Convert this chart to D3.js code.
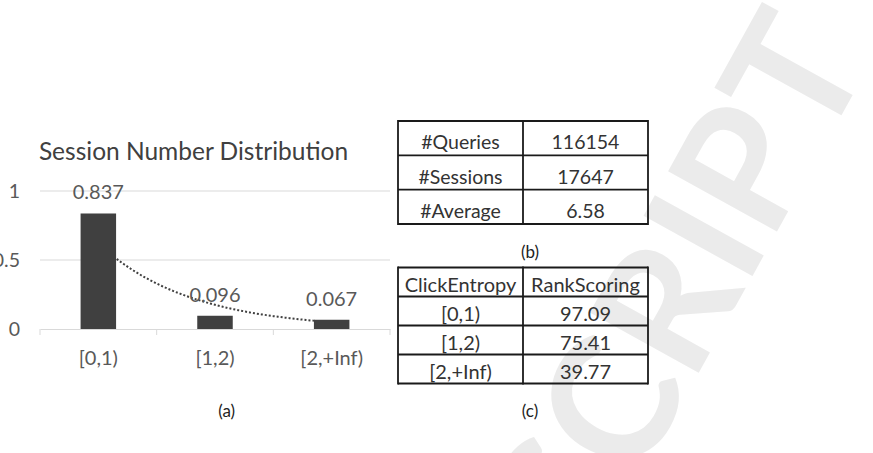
<!DOCTYPE html>
<html>
<head>
<meta charset="utf-8">
<script src="https://cdn.jsdelivr.net/npm/d3@7"></script>
<style>
  html, body { margin: 0; padding: 0; background: #fff; }
  svg { display: block; font-family: Lato, "Open Sans", sans-serif; }
</style>
</head>
<body>
<svg id="chart" width="873" height="453"></svg>
<script>
// ---- Data ----
const categories = ["[0,1)", "[1,2)", "[2,+Inf)"];
const sessionShare = [0.837, 0.096, 0.067];
const valueLabels = ["0.837", "0.096", "0.067"];
const yTicks = [0, 0.5, 1];
const yTickLabels = ["0", "0.5", "1"];
const chartTitle = "Session Number Distribution";

const statLabels = ["#Queries", "#Sessions", "#Average"];
const statValues = ["116154", "17647", "6.58"];

const entropyHeader = ["ClickEntropy", "RankScoring"];
const entropyRanges = ["[0,1)", "[1,2)", "[2,+Inf)"];
const rankScores = ["97.09", "75.41", "39.77"];

const captions = ["(a)", "(b)", "(c)"];
const watermark = "ACCEPTED MANUSCRIPT";

const svg = d3.select("#chart");

// ---- Watermark ----
svg.append("text")
  .attr("transform", "translate(872,60) rotate(-61)")
  .attr("text-anchor", "end")
  .attr("font-size", 172)
  .attr("font-weight", 700)
  .attr("fill", "#ebebeb")
  .text(watermark);

// ---- Chart (a) ----
const xb = d3.scaleBand().domain(categories).range([40, 390]);
const y = d3.scaleLinear().domain([0, 1]).range([329, 191]);

const g = svg.append("g");

// gridlines
g.selectAll("line.grid").data(yTicks.filter(d => d > 0)).join("line")
  .attr("class", "grid")
  .attr("x1", 40).attr("x2", 390)
  .attr("y1", d => y(d)).attr("y2", d => y(d))
  .attr("stroke", "#d9d9d9").attr("stroke-width", 1);

// x axis
const xAxis = g.append("g").attr("transform", `translate(0,${y(0)})`)
  .call(d3.axisBottom(xb).tickSize(0).tickFormat(""));
xAxis.select(".domain").attr("stroke", "#d9d9d9").attr("stroke-width", 1);
const bounds = categories.map(c => xb(c)).concat([xb(categories[categories.length - 1]) + xb.bandwidth()]);
g.selectAll("line.xt").data(bounds).join("line")
  .attr("class", "xt")
  .attr("x1", d => d).attr("x2", d => d)
  .attr("y1", y(0)).attr("y2", y(0) + 6)
  .attr("stroke", "#d9d9d9").attr("stroke-width", 1);

// x labels
g.selectAll("text.xl").data(categories).join("text")
  .attr("class", "xl")
  .attr("x", d => xb(d) + xb.bandwidth() / 2)
  .attr("y", 365)
  .attr("text-anchor", "middle")
  .attr("font-size", 20)
  .attr("fill", "#595959")
  .text(d => d);

// y labels
g.selectAll("text.yl").data(yTicks).join("text")
  .attr("class", "yl")
  .attr("x", 20)
  .attr("y", d => y(d) + 6.5)
  .attr("text-anchor", "end")
  .attr("font-size", 19.5)
  .attr("fill", "#595959")
  .text((d, i) => yTickLabels[i]);

// exponential trendline (least squares fit on ln(y), as in spreadsheet trendlines)
const idx = sessionShare.map((d, i) => i + 1);
const lnv = sessionShare.map(Math.log);
const mx = d3.mean(idx), my = d3.mean(lnv);
const slope = d3.sum(idx, (d, i) => (d - mx) * (lnv[i] - my)) / d3.sum(idx, d => (d - mx) * (d - mx));
const icpt = my - slope * mx;
const xi = d3.scaleLinear().domain([1, categories.length])
  .range([xb(categories[0]) + xb.bandwidth() / 2, xb(categories[categories.length - 1]) + xb.bandwidth() / 2]);
const trendDomain = d3.range(1, categories.length + 0.001, 0.02);
g.append("path")
  .datum(trendDomain)
  .attr("fill", "none")
  .attr("stroke", "#404040")
  .attr("stroke-width", 2)
  .attr("stroke-dasharray", "2,2")
  .attr("d", d3.line().x(t => xi(t)).y(t => y(Math.exp(icpt + slope * t))));

// bars
g.selectAll("rect.bar").data(sessionShare).join("rect")
  .attr("class", "bar")
  .attr("x", (d, i) => xb(categories[i]) + xb.bandwidth() / 2 - 17.75)
  .attr("width", 35.5)
  .attr("y", d => y(d))
  .attr("height", d => y(0) - y(d))
  .attr("fill", "#404040");

// value labels
g.selectAll("text.vl").data(sessionShare).join("text")
  .attr("class", "vl")
  .attr("x", (d, i) => xb(categories[i]) + xb.bandwidth() / 2)
  .attr("y", d => y(d) - 14)
  .attr("text-anchor", "middle")
  .attr("font-size", 20)
  .attr("fill", "#595959")
  .text((d, i) => valueLabels[i]);

// title
g.append("text")
  .attr("x", 193.5).attr("y", 159.5)
  .attr("text-anchor", "middle")
  .attr("font-size", 24.5)
  .attr("fill", "#404040")
  .text(chartTitle);

// ---- Table helper ----
function drawTable(rows, x0, x1, y0, y1, baseOff, fontSize) {
  const cols = d3.scaleBand().domain(d3.range(rows[0].length)).range([x0, x1]);
  const rws = d3.scaleBand().domain(d3.range(rows.length)).range([y0, y1]);
  const t = svg.append("g");
  rows.forEach((row, ri) => {
    row.forEach((cell, ci) => {
      t.append("text")
        .attr("x", cols(ci) + cols.bandwidth() / 2)
        .attr("y", rws(ri) + rws.bandwidth() - baseOff)
        .attr("text-anchor", "middle")
        .attr("font-size", fontSize)
        .attr("fill", "#333")
        .text(cell);
    });
  });
  const hs = d3.range(rows.length + 1).map(i => i < rows.length ? rws(i) : y1);
  t.selectAll("line.h").data(hs).join("line")
    .attr("x1", x0).attr("x2", x1).attr("y1", d => d).attr("y2", d => d)
    .attr("stroke", "#1a1a1a").attr("stroke-width", 1.8);
  const vs = d3.range(rows[0].length + 1).map(i => i < rows[0].length ? cols(i) : x1);
  t.selectAll("line.v").data(vs).join("line")
    .attr("x1", d => d).attr("x2", d => d).attr("y1", y0 - 0.9).attr("y2", y1 + 0.9)
    .attr("stroke", "#1a1a1a").attr("stroke-width", 1.8);
}

// ---- Table (b) ----
drawTable(statLabels.map((l, i) => [l, statValues[i]]), 398, 648, 121, 224, 6, 19.5);

// ---- Table (c) ----
drawTable([entropyHeader].concat(entropyRanges.map((r, i) => [r, rankScores[i]])), 398, 648, 267.5, 383.5, 4.5, 20);

// ---- Captions ----
const capPos = [[226.7, 417], [530, 258], [530, 416.5]];
svg.selectAll("text.cap").data(captions).join("text")
  .attr("class", "cap")
  .attr("x", (d, i) => capPos[i][0])
  .attr("y", (d, i) => capPos[i][1])
  .attr("text-anchor", "middle")
  .attr("font-size", 17)
  .attr("fill", "#222")
  .text(d => d);
</script>
</body>
</html>
